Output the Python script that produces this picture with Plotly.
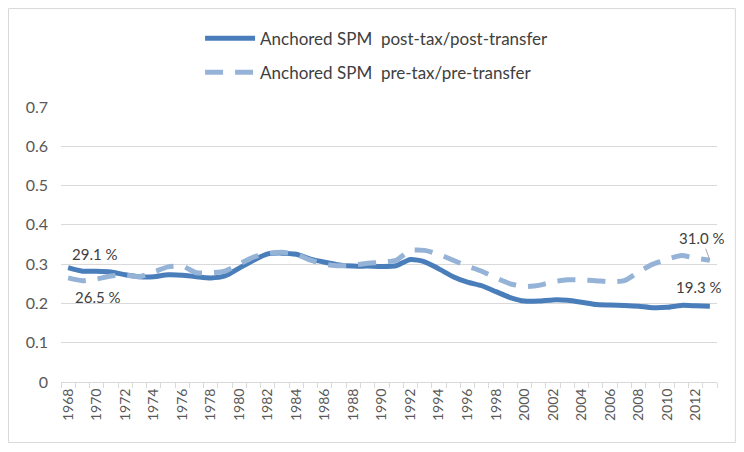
import plotly.graph_objects as go

years = list(range(1968, 2014))
post_tax = [0.291, 0.282, 0.282, 0.280, 0.273, 0.268, 0.268, 0.273, 0.272, 0.268,
            0.265, 0.270, 0.290, 0.310, 0.326, 0.328, 0.325, 0.313, 0.305, 0.298,
            0.295, 0.295, 0.294, 0.296, 0.312, 0.306, 0.288, 0.268, 0.254, 0.245,
            0.230, 0.215, 0.206, 0.206, 0.209, 0.208, 0.203, 0.197, 0.196, 0.195,
            0.193, 0.189, 0.190, 0.195, 0.194, 0.193]
pre_tax = [0.265, 0.258, 0.262, 0.270, 0.272, 0.268, 0.280, 0.293, 0.295, 0.278,
           0.278, 0.282, 0.300, 0.318, 0.327, 0.330, 0.325, 0.310, 0.300, 0.296,
           0.298, 0.302, 0.305, 0.310, 0.335, 0.335, 0.325, 0.310, 0.295, 0.282,
           0.265, 0.250, 0.243, 0.246, 0.255, 0.260, 0.260, 0.258, 0.255, 0.258,
           0.280, 0.300, 0.312, 0.322, 0.315, 0.310]
tick_years = list(range(1968, 2014, 2))
y_ticks = [0, 0.1, 0.2, 0.3, 0.4, 0.5, 0.6, 0.7]

FONT = "Lato"
TXT = "#595959"

fig = go.Figure()
fig.add_trace(go.Scatter(
    x=years, y=post_tax, mode="lines", name="Anchored SPM  post-tax/post-transfer",
    line=dict(color="#4a7ebb", width=5, shape="spline", smoothing=0.6),
    legendgroup="a"))
fig.add_trace(go.Scatter(
    x=years, y=pre_tax, mode="lines", name="Anchored SPM  pre-tax/pre-transfer",
    line=dict(color="#95b3d7", width=5, shape="spline", smoothing=0.6, dash="18px,12px"),
    legendgroup="b"))

ann_font = dict(family=FONT, size=15, color="#404040")
fig.add_annotation(x=years[0], y=post_tax[0], text="29.1 %", showarrow=False,
                   xanchor="left", yanchor="middle", xshift=2, yshift=14, font=ann_font)
fig.add_annotation(x=years[0], y=pre_tax[0], text="26.5 %", showarrow=False,
                   xanchor="left", yanchor="middle", xshift=5, yshift=-19, font=ann_font)
fig.add_annotation(x=years[-1], y=pre_tax[-1], text="31.0 %", showarrow=True,
                   arrowhead=0, arrowwidth=1, arrowcolor="#a6a6a6", ax=-8, ay=-22,
                   font=ann_font)
fig.add_annotation(x=years[-1], y=post_tax[-1], text="19.3 %", showarrow=False,
                   xanchor="center", yanchor="middle", xshift=-11, yshift=19, font=ann_font)

fig.add_shape(type="rect", xref="paper", yref="paper",
              x0=-0.0800, x1=1.028, y0=-0.2200, y1=1.358,
              line=dict(color="#d9d9d9", width=1), fillcolor="rgba(0,0,0,0)", layer="below")

fig.update_layout(
    width=736, height=444,
    margin=dict(l=53, r=27, t=99, b=70, autoexpand=False),
    paper_bgcolor="white", plot_bgcolor="white",
    font=dict(family=FONT, size=15, color=TXT),
    showlegend=True,
    legend=dict(x=0.212, y=1.314, xanchor="left", yanchor="top",
                orientation="v", itemwidth=50, tracegroupgap=9,
                font=dict(family=FONT, size=17, color="#404040"),
                bgcolor="rgba(0,0,0,0)"),
    xaxis=dict(range=[1967.5, 2013.5], tickvals=tick_years,
               ticktext=[str(y) for y in tick_years], tickangle=-90,
               ticks="", showgrid=False, showline=True, linecolor="#d9d9d9",
               linewidth=1, zeroline=False,
               tickfont=dict(family=FONT, size=14, color=TXT),
               minor=dict(tick0=1967.5, dtick=1, ticks="outside", ticklen=5,
                          tickcolor="#d9d9d9", showgrid=False)),
    yaxis=dict(range=[0, 0.7], tickvals=y_ticks,
               ticktext=["0", "0.1", "0.2", "0.3", "0.4", "0.5", "0.6", "0.7"],
               showgrid=True, gridcolor="#d9d9d9", gridwidth=1, zeroline=False,
               showline=False, ticks="", ticklabelstandoff=12,
               tickfont=dict(family=FONT, size=16, color=TXT)),
)

fig.write_html("out.html")
